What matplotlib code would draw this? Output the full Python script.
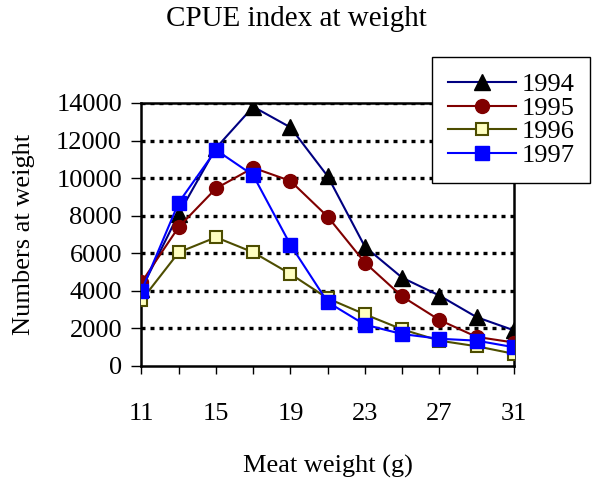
import numpy as np
import matplotlib
matplotlib.use("Agg")
import matplotlib.pyplot as plt

# ── data ─────────────────────────────────────────────
weights = [11, 13, 15, 17, 19, 21, 23, 25, 27, 29, 31]
y1994 = [4100, 8100, 11600, 13800, 12700, 10100, 6350, 4700, 3750, 2600, 1900]
y1995 = [4450, 7400, 9450, 10550, 9850, 7950, 5500, 3700, 2450, 1550, 1250]
y1996 = [3500, 6050, 6850, 6050, 4900, 3600, 2750, 1950, 1350, 1050, 650]
y1997 = [4000, 8700, 11500, 10150, 6450, 3400, 2200, 1700, 1450, 1350, 1000]
xtick_labels = ['11', '', '15', '', '19', '', '23', '', '27', '', '31']
yticks = [0, 2000, 4000, 6000, 8000, 10000, 12000, 14000]

plt.rcParams['font.family'] = ['Liberation Serif', 'DejaVu Serif']

fig = plt.figure(figsize=(5.92, 4.80), dpi=100)
ax = fig.add_axes([0.239, 0.2375, 0.629, 0.548])

# dotted grid lines
for v in yticks[1:]:
    ax.axhline(v, color='black', lw=2.4, ls=(0, (1.2, 1.5)), zorder=1)

ax.plot(weights, y1994, color='#000080', lw=1.5, marker='^', ms=11,
        mfc='black', mec='black', label='1994', zorder=3)
ax.plot(weights, y1995, color='#800000', lw=1.5, marker='o', ms=10,
        mfc='#800000', mec='#800000', label='1995', zorder=4)
ax.plot(weights, y1996, color='#4d4d00', lw=1.5, marker='s', ms=9,
        mfc='#ffffc0', mec='#4d4d00', mew=1.5, label='1996', zorder=5)
ax.plot(weights, y1997, color='#0000ff', lw=1.5, marker='s', ms=10,
        mfc='#0000ff', mec='#0000ff', label='1997', zorder=6)

ax.set_xlim(11, 31)
ax.set_ylim(0, 14000)
ax.set_xticks(weights)
ax.set_xticklabels(xtick_labels)
ax.set_yticks(yticks)
ax.tick_params(axis='x', direction='out', length=6, width=1, pad=21, labelsize=19)
ax.tick_params(axis='y', direction='out', length=7, width=1, pad=7, labelsize=19)
for s in ax.spines.values():
    s.set_linewidth(1.8)
    s.set_color('black')

ax.set_xlabel('Meat weight (g)', fontsize=19, labelpad=21)
ax.set_ylabel('Numbers at weight', fontsize=19, labelpad=15)
fig.text(0.5, 0.96, 'CPUE index at weight', ha='center', va='center', fontsize=21)

leg = fig.legend(loc='upper right', bbox_to_anchor=(0.997, 0.881), fontsize=19,
                 frameon=True, fancybox=False, edgecolor='black', framealpha=1,
                 labelspacing=0.0, handlelength=2.6, handletextpad=0.2,
                 borderpad=0.6, borderaxespad=0)
leg.get_frame().set_linewidth(1.0)

fig.savefig('out.png', dpi=100)
